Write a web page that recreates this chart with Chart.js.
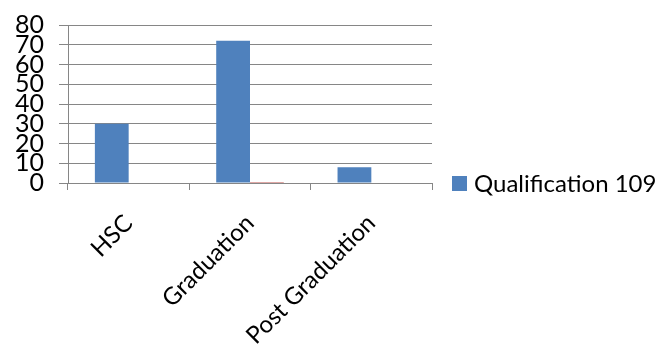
<!DOCTYPE html>
<html>
<head>
<meta charset="utf-8">
<script src="https://cdn.jsdelivr.net/npm/chart.js@4/dist/chart.umd.min.js"></script>
<style>
    html, body { margin: 0; padding: 0; background: #fff; }
    canvas { display: block; }
</style>
</head>
<body>
<canvas id="qualChart" width="659" height="348"></canvas>
<script>
'use strict';

const categories = ['HSC', 'Graduation', 'Post Graduation'];
const qualificationValues = [30, 72, 8];
const secondValues = [0, 0.5, 0];
const yTicks = [0, 10, 20, 30, 40, 50, 60, 70, 80];

const FONT = 'Lato, "Open Sans", sans-serif';
const GRID = '#868686';

// legend drawn by hand at the right, only for the first series
const sideLegend = {
    'id': 'sideLegend',
    'afterDraw': (chart) => {
        const ctx = chart.ctx;
        const ds = chart.data.datasets[0];
        ctx.save();
        ctx.fillStyle = ds.backgroundColor;
        ctx.fillRect(452, 176, 15, 15);
        ctx.fillStyle = '#000';
        ctx.font = '24px ' + FONT;
        ctx.textBaseline = 'middle';
        ctx.textAlign = 'left';
        ctx.fillText(ds.label, 474, 184);
        ctx.restore();
    }
};

const ctx = document.getElementById('qualChart').getContext('2d');
const chart = new Chart(ctx, {
    'type': 'bar',
    'data': {
        'labels': categories,
        'datasets': [
            {
                'label': 'Qualification 109',
                'data': qualificationValues,
                'backgroundColor': '#4f81bd',
                'categoryPercentage': 0.557,
                'barPercentage': 1
            },
            {
                'label': '',
                'data': secondValues,
                'backgroundColor': '#c0504d',
                'categoryPercentage': 0.557,
                'barPercentage': 1
            }
        ]
    },
    'options': {
        'responsive': false,
        'animation': false,
        'layout': {
            'padding': { 'top': 22, 'right': 227, 'left': 0, 'bottom': 0 }
        },
        'plugins': {
            'legend': { 'display': false },
            'tooltip': { 'enabled': false }
        },
        'scales': {
            'x': {
                'grid': {
                    'offset': true,
                    'drawOnChartArea': false,
                    'drawTicks': true,
                    'tickLength': 7,
                    'color': GRID
                },
                'border': { 'color': GRID },
                'ticks': {
                    'minRotation': 45,
                    'maxRotation': 45,
                    'padding': 19,
                    'color': '#000',
                    'font': { 'family': FONT, 'size': 24 }
                },
                'afterFit': (scale) => { scale.height = 165; }
            },
            'y': {
                'min': 0,
                'max': 80,
                'afterBuildTicks': (scale) => {
                    scale.ticks = yTicks.map((v) => ({ 'value': v }));
                },
                'grid': {
                    'color': GRID,
                    'tickLength': 9
                },
                'border': { 'color': GRID },
                'ticks': {
                    'autoSkip': false,
                    'padding': 15,
                    'color': '#000',
                    'font': { 'family': FONT, 'size': 25, 'lineHeight': 0.8 }
                },
                'afterFit': (scale) => { scale.width = 68; }
            }
        }
    },
    'plugins': [sideLegend]
});
</script>
</body>
</html>
